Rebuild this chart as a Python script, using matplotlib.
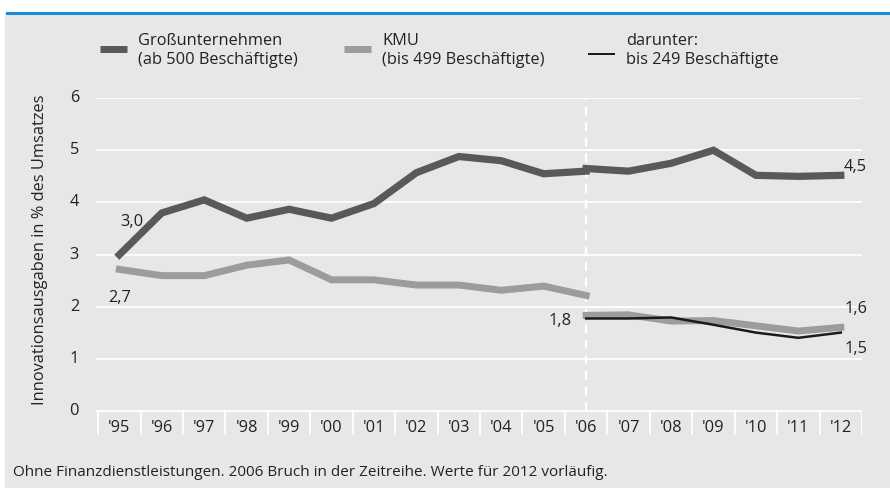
import matplotlib.pyplot as plt
from matplotlib.patches import Rectangle
from matplotlib.lines import Line2D

years = ["'95", "'96", "'97", "'98", "'99", "'00", "'01", "'02", "'03",
         "'04", "'05", "'06", "'07", "'08", "'09", "'10", "'11", "'12"]
gross_old = [3.0, 3.8, 4.05, 3.7, 3.87, 3.7, 3.98, 4.57, 4.88, 4.8, 4.55, 4.6]
gross_new = [4.65, 4.6, 4.75, 5.0, 4.52, 4.5, 4.52]
kmu_old = [2.72, 2.6, 2.6, 2.8, 2.9, 2.52, 2.52, 2.42, 2.42, 2.32, 2.4, 2.22]
kmu_new = [1.84, 1.85, 1.73, 1.74, 1.64, 1.54, 1.61]
klein_new = [1.78, 1.78, 1.8, 1.66, 1.51, 1.41, 1.51]

c_dark = "#58595b"
c_gray = "#9b9c9e"
c_black = "#1a1a1a"
bg = "#e6e7e9"
font = "Open Sans"
plt.rcParams["font.family"] = [font, "DejaVu Sans"]
fs = 11.8

fig = plt.figure(figsize=(8.9, 4.88), dpi=100)
fig.patches.append(Rectangle((5 / 890, 0), 1, 1 - 13 / 488, transform=fig.transFigure,
                             color=bg, zorder=-10))
fig.add_artist(Line2D([7 / 890, 1], [1 - 13 / 488] * 2, color="#1b8bd3", lw=2.2))

ax = fig.add_axes([96 / 890, 1 - 435 / 488, 766 / 890, 337 / 488])
ax.patch.set_alpha(0)
ax.set_xlim(-0.55, 17.5)
ax.set_ylim(-0.45, 6.0)
for s in ax.spines.values():
    s.set_visible(False)
ax.set_xticks([])
ax.set_yticks([])

for v in range(7):
    ax.axhline(v, color="white", lw=1.3, zorder=1)
    ax.text(-0.95, v, str(v), ha="right", va="center", fontsize=fs, color="#222222")
for i in range(len(years) + 1):
    ax.plot([i - 0.5, i - 0.5], [-0.45, 0], color="white", lw=1.3, zorder=1)
for i, y in enumerate(years):
    ax.text(i, -0.32, y, ha="center", va="center", fontsize=fs, color="#222222")

brk = 11
ax.plot([brk, brk], [0, 6], color="white", lw=1.6, ls=(0, (4, 3)), zorder=2)

x_old = list(range(len(gross_old)))
x_new = list(range(brk, brk + len(gross_new)))
ax.plot(x_old, gross_old, color=c_dark, lw=5.2, solid_joinstyle="miter", zorder=3)
ax.plot(x_new, gross_new, color=c_dark, lw=5.2, solid_joinstyle="miter", zorder=3)
ax.plot(x_old, kmu_old, color=c_gray, lw=5, solid_joinstyle="miter", zorder=3)
ax.plot(x_new, kmu_new, color=c_gray, lw=5, solid_joinstyle="miter", zorder=3)
ax.plot(x_new, klein_new, color=c_black, lw=1.8, zorder=4)

lab = dict(fontsize=fs, color="#222222")
ax.text(0.3, 3.62, "3,0", ha="center", va="center", **lab)
ax.text(0.0, 2.17, "2,7", ha="center", va="center", **lab)
ax.text(brk - 0.35, 1.73, "1,8", ha="right", va="center", **lab)
ax.text(17.35, 4.68, "4,5", ha="center", va="center", **lab)
ax.text(17.35, 1.96, "1,6", ha="center", va="center", **lab)
ax.text(17.35, 1.2, "1,5", ha="center", va="center", **lab)

fig.text(40 / 890, 1 - 250 / 488, "Innovationsausgaben in % des Umsatzes", rotation=90,
         ha="center", va="center", fontsize=fs, color="#222222")

# legend
leg = [(100, c_dark, 7, "Großunternehmen\n(ab 500 Beschäftigte)"),
       (344, c_gray, 7, "KMU\n(bis 499 Beschäftigte)"),
       (588, c_black, 2, "darunter:\nbis 249 Beschäftigte")]
for x0, col, h, txt in leg:
    yc = 1 - 49 / 488 if h > 3 else 1 - 54 / 488
    fig.add_artist(Line2D([x0 / 890, (x0 + 27) / 890], [yc, yc], color=col, lw=h * 0.72,
                          solid_capstyle="butt"))
    fig.text((x0 + 38) / 890, 1 - 33 / 488, txt, ha="left", va="top", fontsize=fs,
             color="#222222", linespacing=1.25)

fig.text(13 / 890, 1 - 472 / 488,
         "Ohne Finanzdienstleistungen. 2006 Bruch in der Zeitreihe. Werte für 2012 vorläufig.",
         ha="left", va="center", fontsize=11, color="#222222")

fig.savefig("out.png", dpi=100, facecolor="white")
